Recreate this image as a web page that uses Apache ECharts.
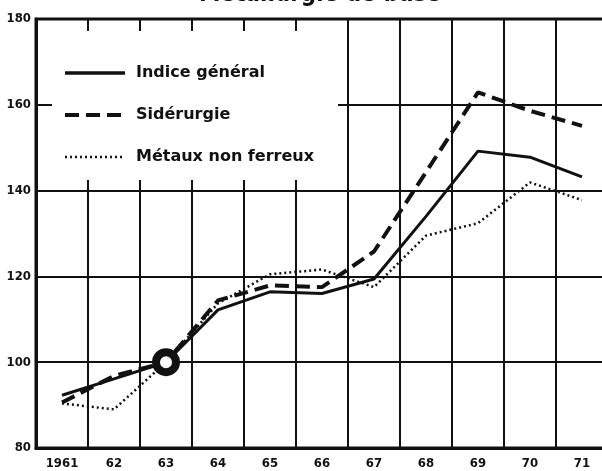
<!DOCTYPE html>
<html>
<head>
<meta charset="utf-8">
<script src="https://cdn.jsdelivr.net/npm/echarts@6/dist/echarts.min.js"></script>
<style>
  html, body { margin: 0; padding: 0; background: #fff; overflow: hidden; }
  body { width: 602px; height: 471px; }
  #chart { width: 620px; height: 471px; }
</style>
</head>
<body>
<div id="chart"></div>
<script>
"use strict";

// indices, base 1963 = 100
const years = ["1961", "62", "63", "64", "65", "66", "67", "68", "69", "70", "71"];
const indiceGeneral = [92.3, 96.1, 100, 112.2, 116.4, 116.0, 119.4, 134.0, 149.2, 147.8, 143.2];
const siderurgie = [90.6, 96.8, 100, 114.4, 117.9, 117.5, 125.8, 144.3, 162.9, 158.6, 155.1];
const metauxNonFerreux = [90.4, 89.0, 100, 113.7, 120.5, 121.6, 117.5, 129.5, 132.4, 141.9, 137.8];
const baseYear = "63";
const baseValue = 100;

const FONT = "'DejaVu Sans Condensed', 'DejaVu Sans', sans-serif";
const INK = "#111";

const chart = echarts.init(document.getElementById("chart"), null, { renderer: "canvas" });

chart.setOption({
  backgroundColor: "#fff",
  animation: false,
  title: {
    text: "Métallurgie de base",
    left: 194,
    top: -22,
    textStyle: { fontFamily: FONT, fontWeight: "bold", fontSize: 24, color: INK },
  },
  grid: {
    left: 36, top: 19, width: 572, height: 429,
    show: true, borderColor: INK, borderWidth: 3, backgroundColor: "transparent",
    containLabel: false, outerBoundsMode: "none",
  },
  legend: {
    orient: "vertical",
    left: 58, top: 60,
    itemWidth: 60, itemHeight: 14, itemGap: 26,
    data: [
      { name: "Indice général", lineStyle: { width: 3.5 } },
      { name: "Sidérurgie", lineStyle: { width: 4 } },
      { name: "Métaux non ferreux", lineStyle: { width: 2.5 } },
    ],
    itemStyle: { opacity: 0 },
    textStyle: { fontFamily: "'DejaVu Sans', sans-serif", fontWeight: "bold", fontSize: 16, color: INK, padding: [0, 0, 0, 6] },
    selectedMode: false,
  },
  graphic: [{
    type: "rect", z: 3,
    shape: { x: 52, y: 31, width: 286, height: 149 },
    style: { fill: "#fff" },
  }],
  xAxis: {
    type: "category",
    data: years,
    boundaryGap: true,
    axisLine: { lineStyle: { color: INK, width: 3 } },
    axisTick: { show: false },
    axisLabel: { margin: 9, fontFamily: FONT, fontWeight: "bold", fontSize: 13, color: INK },
    splitLine: { show: true, lineStyle: { color: INK, width: 2 } },
  },
  yAxis: {
    type: "value",
    min: 80, max: 180, interval: 20,
    axisLine: { show: true, lineStyle: { color: INK, width: 3 } },
    axisTick: { show: false },
    axisLabel: { margin: 5, fontFamily: FONT, fontWeight: "bold", fontSize: 13, color: INK },
    splitLine: { show: true, lineStyle: { color: INK, width: 2 } },
  },
  series: [
    {
      name: "Indice général", type: "line", data: indiceGeneral,
      symbol: "none", z: 4,
      lineStyle: { color: INK, width: 3 },
      itemStyle: { color: INK },
    },
    {
      name: "Sidérurgie", type: "line", data: siderurgie,
      symbol: "none", z: 4,
      lineStyle: { color: INK, width: 4, type: [14, 7] },
      itemStyle: { color: INK },
    },
    {
      name: "Métaux non ferreux", type: "line", data: metauxNonFerreux,
      symbol: "none", z: 4,
      lineStyle: { color: INK, width: 2.5, type: [2, 3] },
      itemStyle: { color: INK },
    },
    {
      name: "base", type: "scatter", z: 6,
      data: [[baseYear, baseValue]],
      symbol: "circle", symbolSize: 20,
      itemStyle: { color: "#fff", opacity: 1, borderColor: INK, borderWidth: 8 },
      emphasis: { disabled: true },
    },
  ],
});
</script>
</body>
</html>
